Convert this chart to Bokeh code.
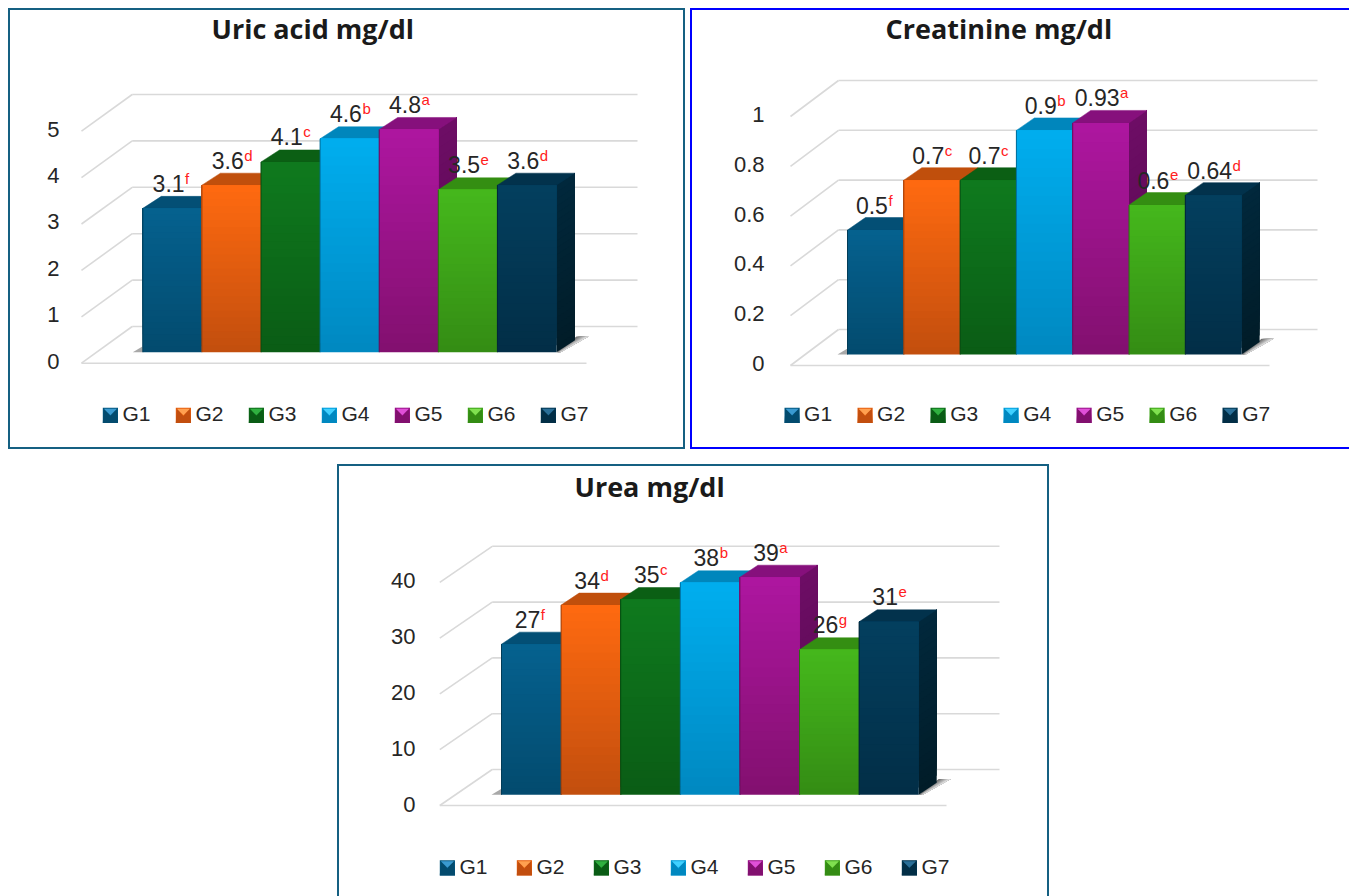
from bokeh.plotting import figure
from bokeh.layouts import column, row
from bokeh.models import (Range1d, FixedTicker, NumeralTickFormatter, Legend, LegendItem,
                          Spacer, ColumnDataSource, InlineStyleSheet)
from bokeh.core.properties import value
from bokeh.embed import file_html
from bokeh.resources import INLINE

groups = ["G1", "G2", "G3", "G4", "G5", "G6", "G7"]

uric_acid = [3.1, 3.6, 4.1, 4.6, 4.8, 3.5, 3.6]
uric_labels = ["3.1", "3.6", "4.1", "4.6", "4.8", "3.5", "3.6"]
uric_letters = ["f", "d", "c", "b", "a", "e", "d"]
uric_ticks = [0, 1, 2, 3, 4, 5]

creatinine = [0.5, 0.7, 0.7, 0.9, 0.93, 0.6, 0.64]
creat_labels = ["0.5", "0.7", "0.7", "0.9", "0.93", "0.6", "0.64"]
creat_letters = ["f", "c", "c", "b", "a", "e", "d"]
creat_ticks = [0, 0.2, 0.4, 0.6, 0.8, 1]

urea = [27, 34, 35, 38, 39, 26, 31]
urea_labels = ["27", "34", "35", "38", "39", "26", "31"]
urea_letters = ["f", "d", "c", "b", "a", "g", "e"]
urea_ticks = [0, 10, 20, 30, 40]

front_top = ["#05618F", "#FF6A10", "#0F7A1E", "#00AEEF", "#AE16A0", "#45B81C", "#033F5F"]
front_bottom = ["#034B6E", "#C24E0E", "#0A5C15", "#0088C0", "#82106F", "#348C14", "#022E46"]
top_face = ["#034F75", "#C04F0C", "#0B5F14", "#0086BC", "#86107C", "#348E12", "#02324C"]
side_top = ["#023A57", "#8F3A09", "#07460F", "#00638C", "#6E0D66", "#26690D", "#01283C"]
side_bottom = ["#012C42", "#6E2C07", "#05340B", "#004C6B", "#540A4C", "#1C4F0A", "#011C28"]
swatch_light = ["#3A9AD0", "#FFA050", "#30B040", "#40D0FF", "#E050D8", "#80E050", "#2A6F98"]

TEXT = "#262626"
GRID = "#D9D9D9"
N = 24


def hex2rgb(h):
    return [int(h[i:i + 2], 16) for i in (1, 3, 5)]


def lerp(a, b, t):
    ca, cb = hex2rgb(a), hex2rgb(b)
    return "#%02x%02x%02x" % tuple(round(x + (y - x) * t) for x, y in zip(ca, cb))


def panel(vals, labels, letters, ticks, title, border, g):
    X, Y, W, H = g["box"]
    bw, step = g["bw"], g["scale"]
    xd = lambda px: 0.5 + (px - g["bar_left"]) / bw
    yd = lambda py: (g["axis0"] - py) / step
    fl, ft = g["frame_left"], g["frame_top"]
    p = figure(width=W, height=H, output_backend="svg", toolbar_location=None,
               x_range=Range1d(xd(fl), xd(X + W)), y_range=Range1d(yd(Y + H), yd(ft)),
               min_border_left=fl - X, min_border_top=ft - Y, min_border_right=0, min_border_bottom=0,
               outline_line_color=None, background_fill_color="white", border_fill_color="white",
               title=title)
    p.xaxis.visible = False
    p.grid.visible = False
    ax = p.yaxis[0]
    ax.ticker = FixedTicker(ticks=ticks)
    ax.formatter = NumeralTickFormatter(format="0.[0]")
    ax.axis_line_color = None
    ax.major_tick_line_color = None
    ax.minor_tick_line_color = None
    ax.major_tick_in = 0
    ax.major_tick_out = 0
    ax.major_label_standoff = g["standoff"]
    ax.major_label_text_font = "Liberation Sans"
    ax.major_label_text_font_size = "22px"
    ax.major_label_text_color = TEXT

    p.title.text_font = "Open Sans"
    p.title.text_font_size = "27px"
    p.title.text_font_style = "bold"
    p.title.text_color = "#1a1a1a"
    p.title.align = "left"
    p.title.standoff = 0
    p.title.offset = g["title_left"] - fl

    # walls and floor
    y_front0 = yd(g["front0"])
    back_shift = (g["back0"] - g["front0"]) / -step
    xfl, xfr, xbl, xbr = xd(g["front_left"]), xd(g["front_right"]), xd(g["back_left"]), xd(g["back_right"])
    for t in ticks:
        yt = t + y_front0
        p.line([xbl, xbr], [yt + back_shift] * 2, line_color=GRID, line_width=1.6)
        p.line([xfl, xbl], [yt, yt + back_shift], line_color=GRID, line_width=1.6)
    p.line([xfl, xfr], [y_front0, y_front0], line_color=GRID, line_width=1.6)

    base = yd(g["bar_base"])
    ddx, ddy = g["dx"] / bw, g["dy"] / step
    right = len(vals) + 0.5

    # floor shadows
    s_h = 15.7 / step
    n_s = 8
    for i in range(n_s):
        t0 = i / n_s
        e = lambda t, lo, hi: lo + (hi - lo) * t
        p.patch([e(t0, right, right + 4 / bw), e(1, right, right + 4 / bw),
                 e(1, right + 20 / bw, right + 32 / bw), e(t0, right + 20 / bw, right + 32 / bw)],
                [base, base, base + s_h, base + s_h],
                fill_color=lerp("#707070", "#F2F2F2", t0), line_color=None)
    p.patch([0.5 - 10 / bw, 0.5, 0.5], [base, base, base + 6 / step],
            fill_color="#A8A8A8", line_color=None)

    # bars, painted left to right; each gradient step repaints everything above it
    for i, v in enumerate(vals):
        x0, x1 = i + 0.5, i + 1.5
        top = base + v
        xs, ys, cs = [], [], []
        for k in range(N):
            a = base + v * k / N
            xs.append([x1, x1 + ddx, x1 + ddx, x1])
            ys.append([a, a + ddy, top + ddy, top])
            cs.append(lerp(side_bottom[i], side_top[i], (k + 0.5) / N))
        p.patches(xs, ys, fill_color=cs, line_color=None)
        p.patch([x0, x1, x1 + ddx, x0 + ddx], [top, top, top + ddy, top + ddy],
                fill_color=top_face[i], line_color=top_face[i], line_width=0.5)
        seg_b = [base + v * k / N for k in range(N)]
        seg_c = [lerp(front_bottom[i], front_top[i], (k + 0.5) / N) for k in range(N)]
        p.quad(left=[x0] * N, right=[x1] * N, bottom=seg_b, top=[top] * N,
               fill_color=seg_c, line_color=None)
        p.line([x0, x0], [base, top], line_color=lerp(front_bottom[i], "#000000", 0.2), line_width=1)

    # value labels with superscript letters
    fs, fs_sup = 23, 15
    val_w = [sum(0.278 if c == "." else 0.556 for c in s) * fs for s in labels]
    sup_w = [0.5 * fs_sup for _ in labels]
    src = ColumnDataSource(dict(
        x=[i + 1 for i in range(len(vals))],
        y=[base + v for v in vals],
        t=labels, s=letters,
        ox=[(a + b) / 2 - b for a, b in zip(val_w, sup_w)],
        osup=[(a + b) / 2 - b + 0.5 for a, b in zip(val_w, sup_w)],
    ))
    p.text(x="x", y="y", text="t", source=src, x_offset="ox", y_offset=-25,
           text_align="right", text_baseline="alphabetic", text_color=TEXT,
           text_font=value("Liberation Sans"), text_font_size=f"{fs}px", level="overlay")
    p.text(x="x", y="y", text="s", source=src, x_offset="osup", y_offset=-30,
           text_align="left", text_baseline="alphabetic", text_color="#FF2020",
           text_font=value("Liberation Sans"), text_font_size=f"{fs_sup}px", level="overlay")

    # legend: the bevelled swatches sit under a legend whose own glyphs are clear
    sx, cy, lstep = g["swatch_x"], g["legend_cy"], g["legend_step"]
    box_g, sw = 19, 15.2
    items = []
    sw_l, sw_r, sw_b, sw_t, sw_c = [], [], [], [], []
    tri_x, tri_y = [], []
    low_x, low_y, low_c = [], [], []
    for i, name in enumerate(groups):
        a = sx + i * lstep
        sw_l.append(xd(a)); sw_r.append(xd(a + sw))
        sw_t.append(yd(cy - sw / 2)); sw_b.append(yd(cy + sw / 2))
        sw_c.append(lerp(front_top[i], front_bottom[i], 0.4))
        tri_x.append([xd(a + 1), xd(a + sw - 1), xd(a + sw / 2)])
        tri_y.append([yd(cy - sw / 2 + 1), yd(cy - sw / 2 + 1), yd(cy)])
        low_x.append([xd(a), xd(a + sw), xd(a + sw - 1), xd(a + sw / 2), xd(a + 1)])
        low_y.append([yd(cy + sw / 2), yd(cy + sw / 2), yd(cy - sw / 2), yd(cy + 1), yd(cy - sw / 2)])
        low_c.append(front_bottom[i])
        clear = p.quad(left=[xd(a)], right=[xd(a + sw)], bottom=[yd(cy + sw / 2)], top=[yd(cy - sw / 2)],
                       fill_alpha=0, line_alpha=0)
        items.append(LegendItem(label=value(name), renderers=[clear]))
    p.quad(left=sw_l, right=sw_r, bottom=sw_b, top=sw_t, fill_color=sw_c, line_color=None)
    p.patches(low_x, low_y, fill_color=low_c, line_color=None)
    p.patches(tri_x, tri_y, fill_color=swatch_light, line_color=None)
    legend = Legend(items=items, orientation="horizontal",
                    location=(sx - (box_g - sw) / 2 - fl, Y + H - cy - 11.5), spacing=g["legend_spacing"],
                    padding=0, margin=0, glyph_width=box_g, glyph_height=box_g, label_standoff=3,
                    label_height=box_g,
                    label_text_font="Liberation Sans", label_text_font_size="21px",
                    label_text_color=TEXT, label_text_baseline="middle",
                    border_line_color=None, background_fill_alpha=0)
    p.add_layout(legend, "center")

    # panel border: a frame over the whole figure, cut where the picture cuts it
    l, t, r_, b = g["border"]
    p.stylesheets = [InlineStyleSheet(css=(
        ":host{overflow:hidden}"
        f":host::after{{content:'';position:absolute;left:{l - 1}px;top:{t - 1}px;"
        f"width:{r_ - l + 2}px;height:{b - t + 2}px;border:2px solid {border};"
        "box-sizing:border-box;pointer-events:none;z-index:10}"))]
    return p


g1 = dict(box=(0, 0, 686, 450), border=(9, 9, 684, 448), frame_left=70, frame_top=46, standoff=11, title_left=211,
          bar_left=142.3, bw=59.1, bar_base=351.7, scale=46.4, axis0=360.5,
          front0=362.7, back0=326, front_left=81, front_right=586, back_left=131.7, back_right=637,
          dx=18.5, dy=12, swatch_x=102.3, legend_cy=414.8, legend_step=73, legend_spacing=23)
g2 = dict(box=(689, 0, 660, 450), border=(2, 9, 670, 448), frame_left=775, frame_top=46, standoff=11, title_left=885,
          bar_left=847, bw=56.3, bar_base=354, scale=249, axis0=363,
          front0=365, back0=329, front_left=790, front_right=1269, back_left=838, back_right=1317,
          dx=18, dy=12.5, swatch_x=784, legend_cy=414.8, legend_step=73, legend_spacing=23)
g3 = dict(box=(336, 462, 714, 434), border=(2, 3, 712, 445), frame_left=426, frame_top=504, standoff=11, title_left=574,
          bar_left=501, bw=59.6, bar_base=794.3, scale=5.58, axis0=803.5,
          front0=805, back0=769, front_left=439.3, front_right=946, back_left=491.7, back_right=999,
          dx=18, dy=12, swatch_x=439.3, legend_cy=867.3, legend_step=77, legend_spacing=27)

p1 = panel(uric_acid, uric_labels, uric_letters, uric_ticks, "Uric acid mg/dl", "#156082", g1)
p2 = panel(creatinine, creat_labels, creat_letters, creat_ticks, "Creatinine mg/dl", "#0000FF", g2)
p3 = panel(urea, urea_labels, urea_letters, urea_ticks, "Urea mg/dl", "#156082", g3)

page = column(row(p1, Spacer(width=3), p2, spacing=0),
              Spacer(height=12),
              row(Spacer(width=336), p3, spacing=0), spacing=0)
open("out.html", "w").write(file_html(page, INLINE))
